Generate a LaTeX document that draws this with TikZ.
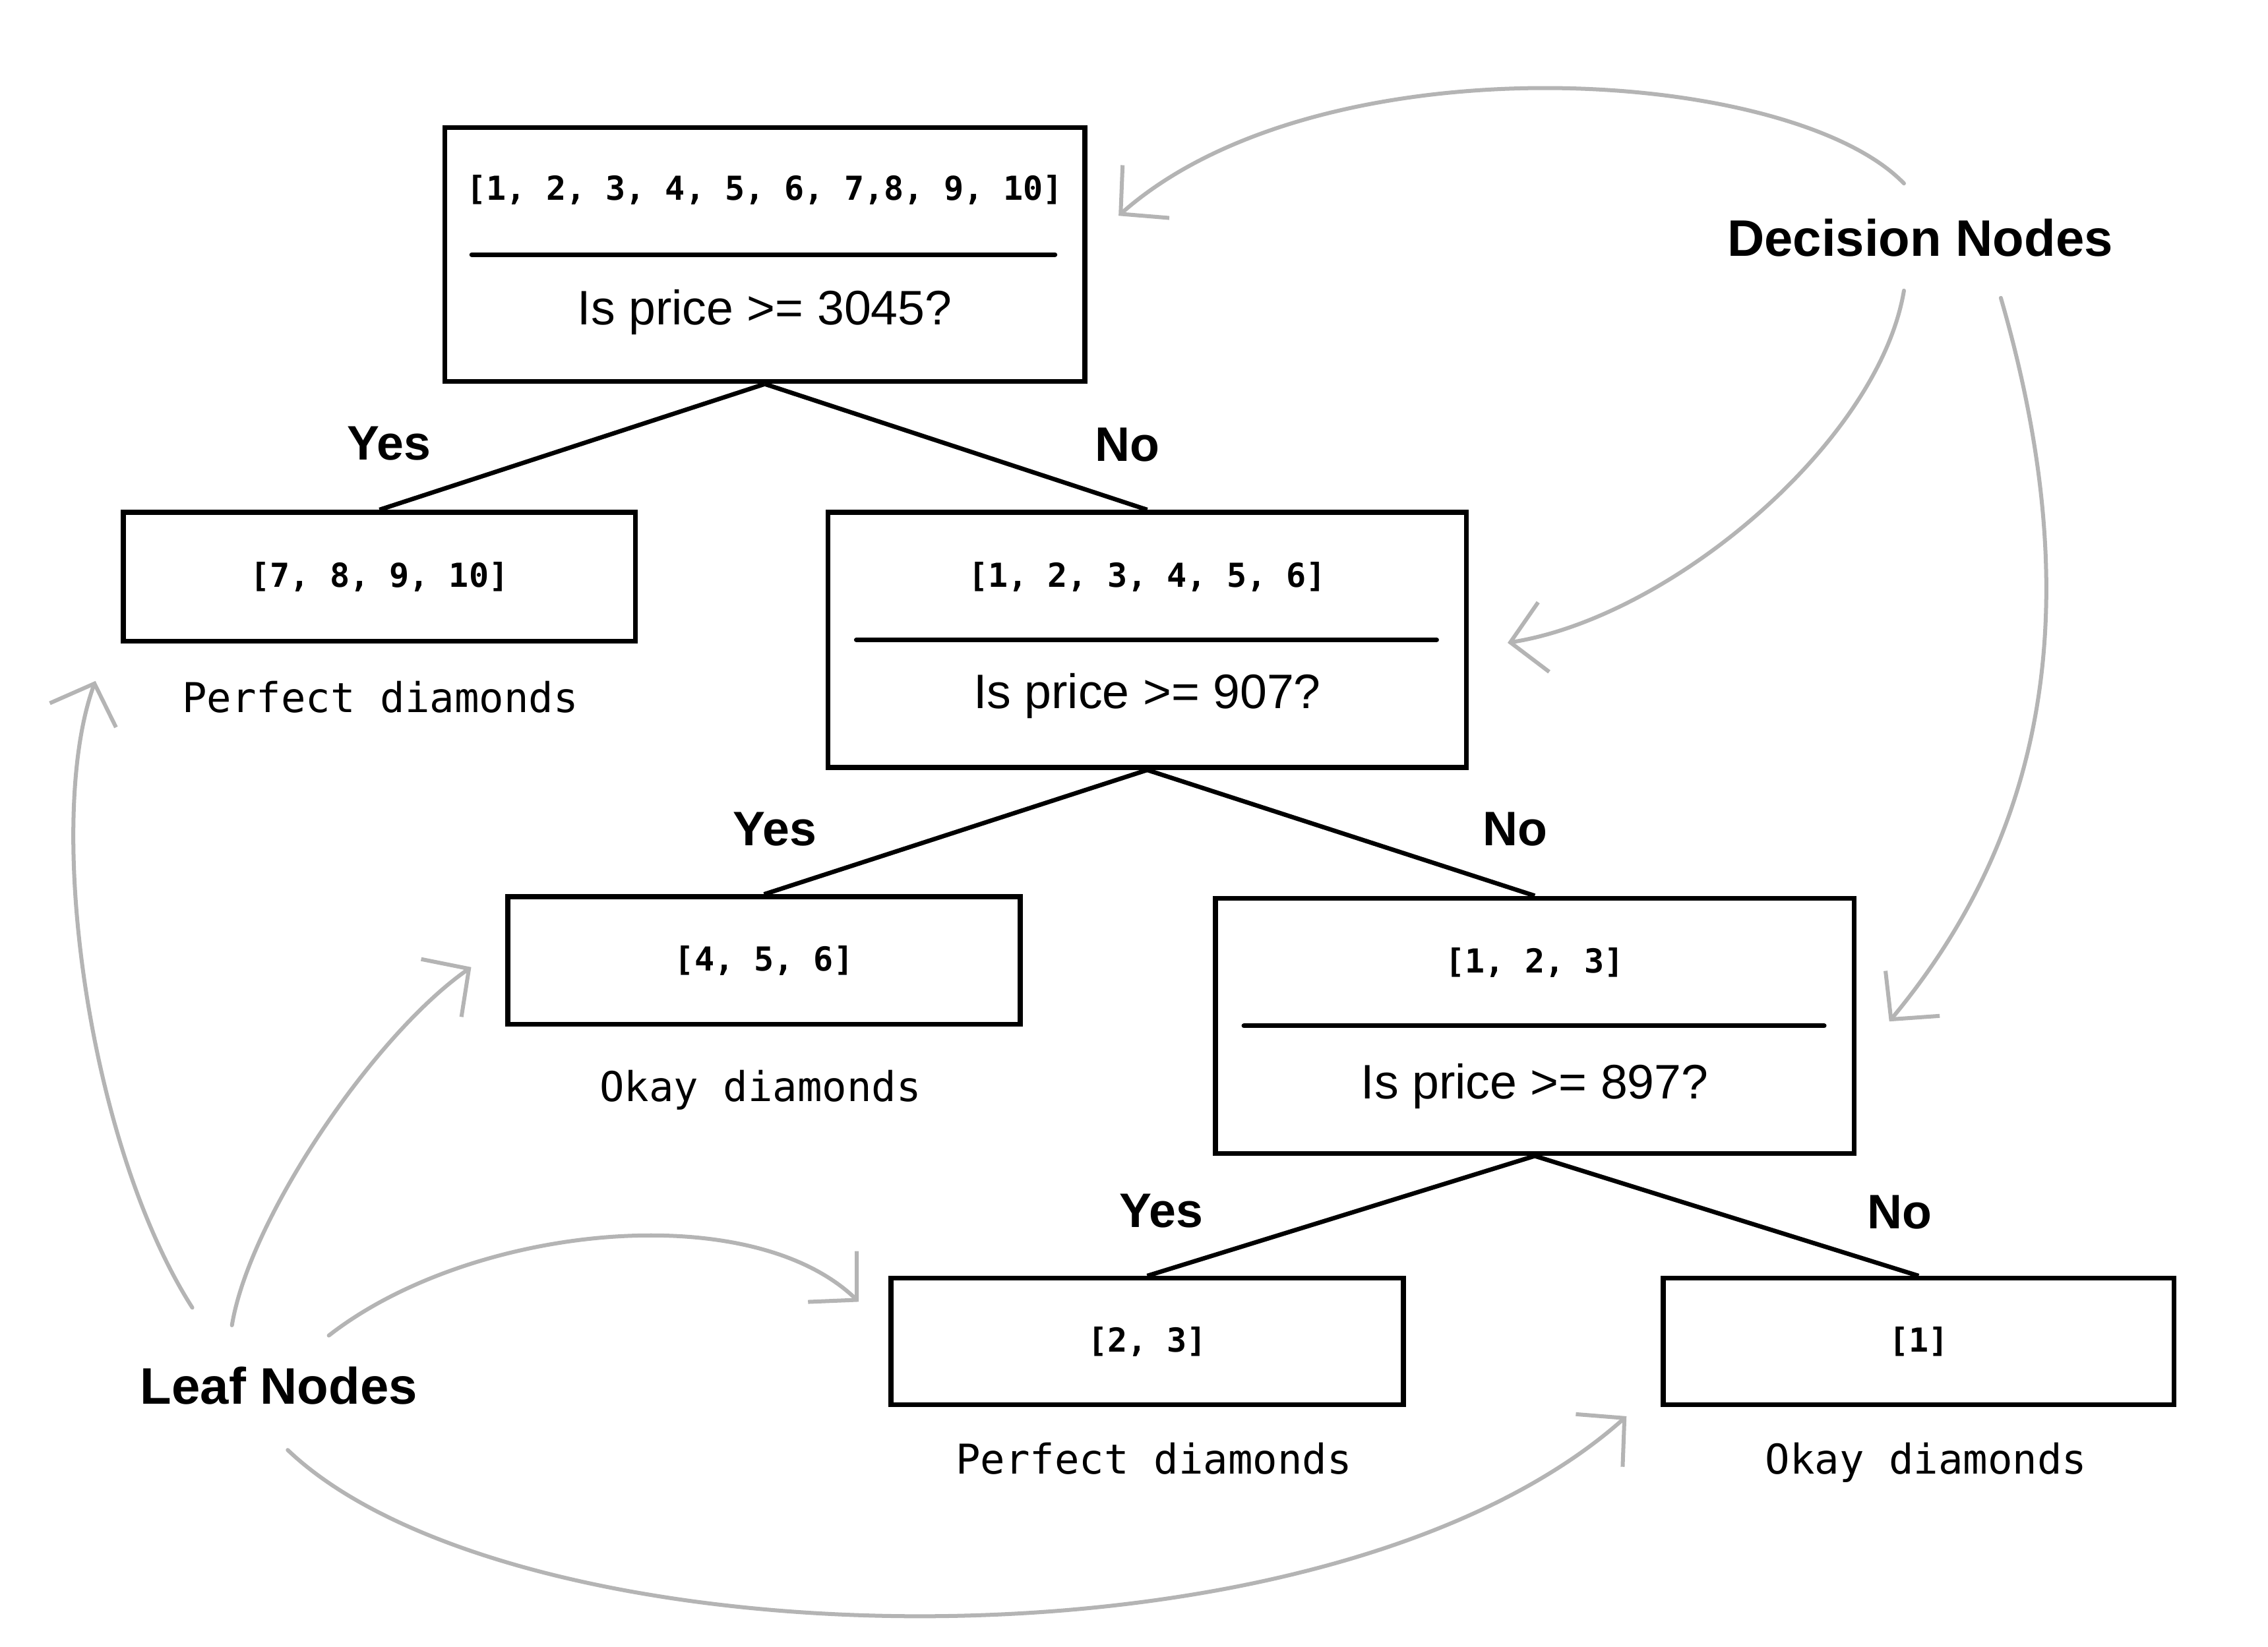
\documentclass[tikz,border=0pt]{standalone}
\usepackage{fontspec}
\setmainfont{Liberation Sans}
\newfontfamily\monof{DejaVu Sans Mono}
\usetikzlibrary{arrows.meta,calc}
\definecolor{grayc}{RGB}{180,180,180}
\begin{document}
\begin{tikzpicture}[x=1pt,y=-1pt,
  box/.style={draw=black, line width=3.3pt, rectangle, inner sep=0pt},
  rulel/.style={line width=3.2pt, line cap=round},
  edge/.style={line width=3pt},
  note/.style={draw=grayc, line width=2.7pt, line cap=round, -{Straight Barb[length=23pt,width=48pt]}},
  listt/.style={font=\monof\bfseries\fontsize{22.5}{27}\selectfont, inner sep=0pt},
  qt/.style={font=\fontsize{33}{40}\selectfont, inner sep=0pt},
  leaft/.style={font=\monof\fontsize{28}{34}\selectfont, inner sep=0pt, text height=21pt, text depth=6pt},
  yn/.style={font=\bfseries\fontsize{33}{40}\selectfont, inner sep=0pt},
  titl/.style={font=\bfseries\fontsize{35}{42}\selectfont, inner sep=0pt}]
\fill[white] (0,0) rectangle (1545,1122);
\useasboundingbox (0,0) rectangle (1545,1122);

% decision boxes
\node[box, minimum width=436pt, minimum height=173pt] (A) at (521,173.5) {};
\node[listt] (Alist) at (521,129.5) {[1, 2, 3, 4, 5, 6, 7,8, 9, 10]};
\node[qt] (Aq) at (521,212.5) {Is price >= 3045?};
\coordinate (Ar1) at ($(A.west)+(20,0)$);
\coordinate (Ar2) at ($(A.east)+(-22,0)$);
\draw[rulel] (Ar1) -- (Ar2);

\node[box, minimum width=435pt, minimum height=174pt] (C) at (781.5,436) {};
\node[listt] (Clist) at (781.5,393) {[1, 2, 3, 4, 5, 6]};
\node[qt] (Cq) at (781.5,474) {Is price >= 907?};
\coordinate (Cr1) at ($(C.west)+(21,0)$);
\coordinate (Cr2) at ($(C.east)+(-22,0)$);
\draw[rulel] (Cr1) -- (Cr2);

\node[box, minimum width=435pt, minimum height=174pt] (E) at (1045.5,699) {};
\node[listt] (Elist) at (1045.5,656) {[1, 2, 3]};
\node[qt] (Eq) at (1045.5,740) {Is price >= 897?};
\coordinate (Er1) at ($(E.west)+(21,0)$);
\coordinate (Er2) at ($(E.east)+(-22,0)$);
\draw[rulel] (Er1) -- (Er2);

% leaf boxes
\node[box, listt, minimum width=349pt, minimum height=88pt] (B) at (258.5,393) {[7, 8, 9, 10]};
\node[box, listt, minimum width=349pt, minimum height=87pt] (D) at (520.5,654.5) {[4, 5, 6]};
\node[box, listt, minimum width=349pt, minimum height=86pt] (F) at (781.5,914) {[2, 3]};
\node[box, listt, minimum width=348pt, minimum height=86pt] (G) at (1307,914) {[1]};

\node[leaft] (Blab) at (259,478) {Perfect diamonds};
\node[leaft] (Dlab) at (518,743) {Okay diamonds};
\node[leaft] (Flab) at (786,997) {Perfect diamonds};
\node[leaft] (Glab) at (1312,997) {Okay diamonds};

% tree edges
\draw[edge] (A.south) -- (B.north);
\draw[edge] (A.south) -- (C.north);
\draw[edge] (C.south) -- (D.north);
\draw[edge] (C.south) -- (E.north);
\draw[edge] (E.south) -- (F.north);
\draw[edge] (E.south) -- (G.north);

\node[yn] (y1) at (265,302) {Yes};
\node[yn] (n1) at (768,303) {No};
\node[yn] (y2) at (528,565) {Yes};
\node[yn] (n2) at (1032,565) {No};
\node[yn] (y3) at (791,825) {Yes};
\node[yn] (n3) at (1294,826) {No};

% annotations
\node[titl] (dn) at (1308,162) {Decision Nodes};
\node[titl] (ln) at (190,944) {Leaf Nodes};

\coordinate (d1s) at (1297,125);
\coordinate (d1e) at (762,147);
\coordinate (d2s) at (1297,198);
\coordinate (d2e) at (1027,438);
\coordinate (d3s) at (1363,203);
\coordinate (d3e) at (1287,696);
\draw[note] (d1s) .. controls (1220,45) and (900,25) .. (d1e);
\draw[note] (d2s) .. controls (1280,300) and (1140,420) .. (d2e);
\draw[note] (d3s) .. controls (1420,400) and (1400,560) .. (d3e);

\coordinate (l1s) at (131,891);
\coordinate (l1e) at (65,464);
\coordinate (l2s) at (158,903);
\coordinate (l2e) at (321,659);
\coordinate (l3s) at (224,910);
\coordinate (l3e) at (585,887);
\coordinate (l4s) at (196,988);
\coordinate (l4e) at (1108,965);
\draw[note] (l1s) .. controls (60,780) and (30,560) .. (l1e);
\draw[note] (l2s) .. controls (170,830) and (255,705) .. (l2e);
\draw[note] (l3s) .. controls (320,835) and (510,815) .. (l3e);
\draw[note] (l4s) .. controls (350,1135) and (900,1150) .. (l4e);
\end{tikzpicture}
\end{document}
